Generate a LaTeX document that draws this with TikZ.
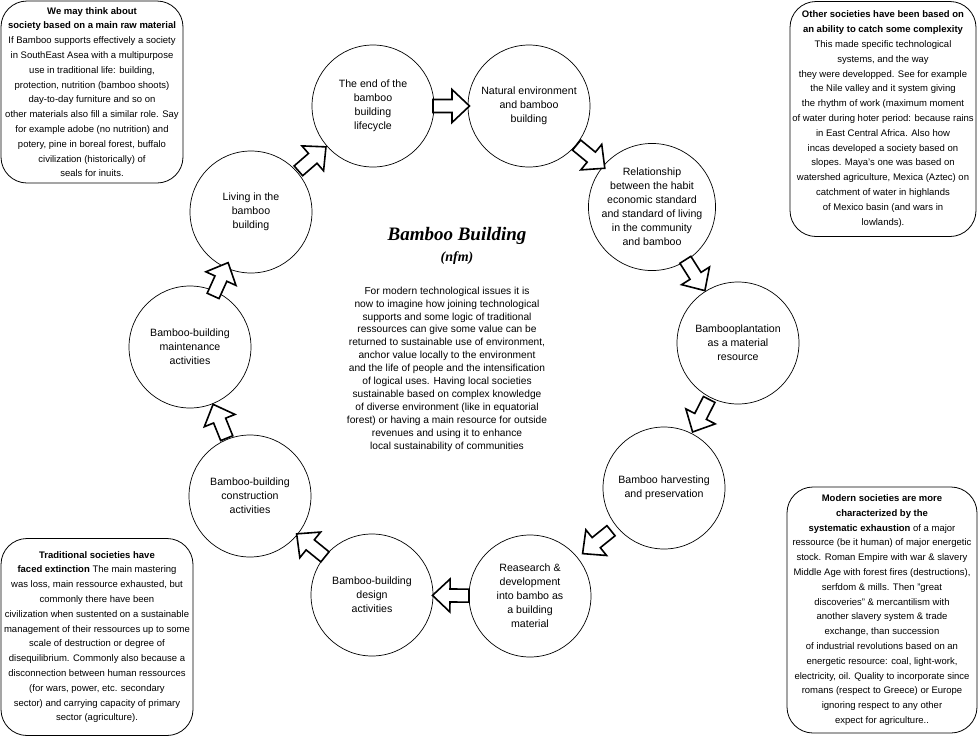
\documentclass[tikz,border=0pt]{standalone}
\usepackage{fontspec}
\setmainfont{Liberation Sans}
\newfontfamily\titlefont{Liberation Serif}
\usetikzlibrary{calc}
\newcommand\flowarrow[2]{%
  \draw[blockarrow] let \p1=(#1.center), \p2=(#2.center),
    \n1={atan2(\y2-\y1,\x2-\x1)}, \p3=($(\p1)!0.5!(\p2)$) in
    ($(\p3)+(\n1+180:18pt)+(\n1+90:6.5pt)$) --
    ($(\p3)+(\n1:1pt)+(\n1+90:6.5pt)$) --
    ($(\p3)+(\n1:1pt)+(\n1+90:16.5pt)$) --
    ($(\p3)+(\n1:18.5pt)$) --
    ($(\p3)+(\n1:1pt)+(\n1-90:16.5pt)$) --
    ($(\p3)+(\n1:1pt)+(\n1-90:6.5pt)$) --
    ($(\p3)+(\n1+180:18pt)+(\n1-90:6.5pt)$) -- cycle;}
\begin{document}
\begin{tikzpicture}[x=1pt,y=-1pt,
  stage/.style={circle, draw, line width=0.7pt, minimum size=122pt, inner sep=0pt,
    align=center, font=\fontsize{10.6}{14}\selectfont},
  note/.style={draw, rounded corners=26pt, line width=0.8pt, align=center,
    font=\fontsize{9.5}{14.8}\selectfont, inner sep=0pt},
  blockarrow/.style={draw, line width=1.6pt, fill=white, line join=miter}]
\useasboundingbox (0,0) rectangle (978,740);
\fill[white] (0,0) rectangle (978,740);

% cycle stages
\node[stage] (c1) at (373,106) {The end of the\\bamboo\\building\\lifecycle};
\node[stage] (c2) at (529,106) {Natural environment\\and bamboo\\building};
\node[stage] (c3) at (652,207) {Relationship\\between the habit\\economic standard\\and standard of living\\in the community\\and bamboo};
\node[stage] (c4) at (738,343) {Bambooplantation\\as a material\\resource};
\node[stage] (c5) at (664,488) {Bamboo harvesting\\and preservation};
\node[stage] (c6) at (530,596) {Reasearch \&\\development\\into bambo as\\a building\\material};
\node[stage] (c7) at (372,595) {Bamboo-building\\design\\activities};
\node[stage] (c8) at (250,496) {Bamboo-building\\construction\\activities};
\node[stage] (c9) at (190,347) {Bamboo-building\\maintenance\\activities};
\node[stage] (c10) at (251,212) {Living in the\\bamboo\\building};

% block arrows
\flowarrow{c1}{c2}
\flowarrow{c2}{c3}
\flowarrow{c3}{c4}
\flowarrow{c4}{c5}
\flowarrow{c5}{c6}
\flowarrow{c6}{c7}
\flowarrow{c7}{c8}
\flowarrow{c8}{c9}
\flowarrow{c9}{c10}
\flowarrow{c10}{c1}

% centre
\node[font=\titlefont\bfseries\itshape\fontsize{19}{21}\selectfont] (title) at (457,236) {Bamboo Building};
\node[font=\titlefont\bfseries\itshape\fontsize{14}{16}\selectfont] (sub) at (457,258) {(nfm)};
\node[align=center, font=\fontsize{10.2}{12.9}\selectfont] (para) at (447,369) {For modern technological issues it is\\
now to imagine how joining  technological\\
supports and some logic of traditional\\
ressources can give some value can be\\
returned to sustainable use of environment,\\
anchor value locally to the environment\\
and the life of people and the intensification\\
of logical uses. Having local societies\\
sustainable based on complex knowledge\\
of diverse environment (like in equatorial\\
forest) or having a main resource for outside\\
revenues and using it to enhance\\
local sustainability  of communities};

% corner notes
\node[note, minimum width=182pt, minimum height=182pt] (n1) at (92,92) {\textbf{We may think about}\\
\textbf{society based on a main raw material}\\
If Bamboo supports effectively a society\\
in SouthEast Asea with a multipurpose\\
use in traditional life: building,\\
protection, nutrition (bamboo shoots)\\
day-to-day furniture and so on\\
other materials also  fill a similar role. Say\\
for example adobe (no nutrition) and\\
potery, pine in boreal forest, buffalo\\
civilization (historically) of\\
seals  for inuits.};

\node[note, minimum width=186pt, minimum height=235pt] (n2) at (883,119) {\textbf{Other societies have been based on}\\
\textbf{an  ability to catch some complexity}\\
This made specific technological\\
systems, and the way\\
they were developped. See for example\\
the Nile valley and it system giving\\
the rhythm of work (maximum moment\\
of water during hoter period: because rains\\
in East Central Africa. Also how\\
incas developed a society based on\\
slopes. Maya's one was based on\\
watershed agriculture, Mexica (Aztec) on\\
catchment of water in highlands\\
of Mexico basin (and wars in\\
lowlands).};

\node[note, minimum width=192pt, minimum height=197pt] (n3) at (97,637) {\textbf{Traditional societies have}\\
\textbf{faced extinction} The main mastering\\
was loss,  main ressource exhausted, but\\
commonly  there have been\\
civilization when sustented on a sustainable\\
management of their ressources up to some\\
scale of destruction or degree of\\
disequilibrium. Commonly also because a\\
disconnection between human ressources\\
(for wars, power, etc. secondary\\
sector) and carrying capacity of primary\\
sector  (agriculture).};

\node[note, minimum width=190pt, minimum height=246pt] (n4) at (882,610) {\textbf{Modern societies are more}\\
\textbf{characterized by the}\\
\textbf{systematic exhaustion} of a major\\
ressource (be it human) of major energetic\\
stock. Roman Empire with war \& slavery\\
Middle Age with forest fires (destructions),\\
serfdom \& mills. Then "great\\
discoveries"  \& mercantilism with\\
another slavery system \&  trade\\
exchange,  than succession\\
of  industrial revolutions based on an\\
energetic resource: coal, light-work,\\
electricity, oil. Quality to incorporate since\\
romans (respect to  Greece) or Europe\\
ignoring respect to  any other\\
expect for agriculture..};
\end{tikzpicture}
\end{document}
